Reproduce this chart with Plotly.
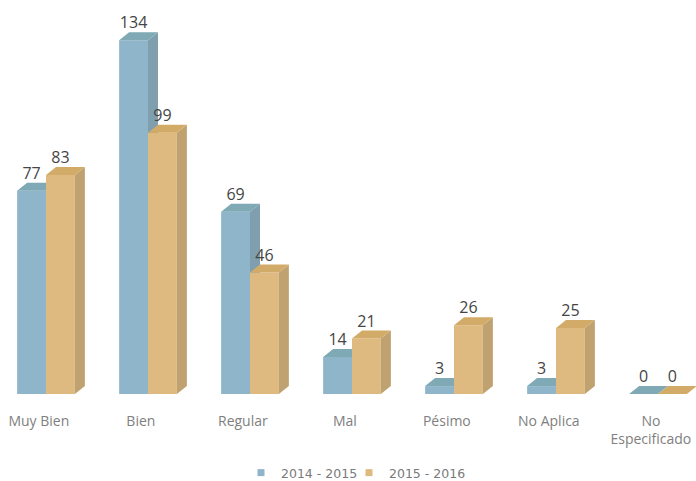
import plotly.graph_objects as go

categories = ["Muy Bien", "Bien", "Regular", "Mal", "Pésimo", "No Aplica", "No<br>Especificado"]
series_a_name = "2014 - 2015"
series_b_name = "2015 - 2016"
series_a = [77, 134, 69, 14, 3, 3, 0]
series_b = [83, 99, 46, 21, 26, 25, 0]

W, H = 696, 481
BASE_PX = 394
PX_PER_CAT = 102
PX_PER_UNIT = 2.64
DX = 10 / PX_PER_CAT
DY = 8 / PX_PER_UNIT
BAR_W = 0.283

xr = [-46 / PX_PER_CAT, (W - 46) / PX_PER_CAT]
yr = [0, BASE_PX / PX_PER_UNIT]
y_domain = [(H - BASE_PX) / H, 1]


def faces(values, x_off):
    sx, sy, tx, ty = [], [], [], []
    for i, v in enumerate(values):
        x0 = i + x_off
        x1 = x0 + BAR_W
        sx += [x1, x1 + DX, x1 + DX, x1, x1, None]
        sy += [0, DY, v + DY, v, 0, None]
        tx += [x0, x0 + DX, x1 + DX, x1, x0, None]
        ty += [v, v + DY, v + DY, v, v, None]
    return sx, sy, tx, ty


def add_group(fig, name, values, x_off, front, side, top, xa, ya, legend_id):
    fig.add_trace(go.Bar(
        x=list(range(len(values))), y=values, name=name, width=BAR_W, offset=x_off,
        marker=dict(color=front, line=dict(width=0)), xaxis=xa, yaxis=ya, showlegend=False,
    ))
    sx, sy, tx, ty = faces(values, x_off)
    for px, py, col in ((sx, sy, side), (tx, ty, top)):
        fig.add_trace(go.Scatter(
            x=px, y=py, mode="lines", fill="toself", fillcolor=col,
            line=dict(width=0, color=col), showlegend=False, hoverinfo="skip",
            xaxis=xa, yaxis=ya,
        ))
    fig.add_trace(go.Scatter(
        x=[i + x_off + BAR_W / 2 for i in range(len(values))],
        y=[v + DY for v in values],
        mode="text", text=[str(v) for v in values], textposition="top center",
        textfont=dict(size=16, color="#454545", family="Open Sans, sans-serif"),
        showlegend=False, hoverinfo="skip", xaxis=xa, yaxis=ya,
    ))
    fig.add_trace(go.Scatter(
        x=[None], y=[None], mode="markers", name=name, legend=legend_id,
        marker=dict(symbol="square", size=7, color=front),
        xaxis=xa, yaxis=ya,
    ))


fig = go.Figure()
add_group(fig, series_a_name, series_a, -BAR_W, "#8FB5CB", "#7F9FAE", "#7FA9B5", "x", "y", "legend")
add_group(fig, series_b_name, series_b, 0, "#DEBA80", "#BFA26F", "#D3AB68", "x2", "y2", "legend2")

legend_style = dict(
    orientation="h", xanchor="left",
    y=(H - 473) / H, yanchor="middle",
    font=dict(size=12.5, color="#7a7a7a", family="DejaVu Sans, sans-serif"),
    itemwidth=30, bgcolor="rgba(0,0,0,0)",
)

fig.update_layout(
    width=W, height=H,
    margin=dict(l=0, r=0, t=0, b=0, autoexpand=False),
    paper_bgcolor="white", plot_bgcolor="white",
    barmode="overlay",
    showlegend=True,
    legend=dict(x=241 / W, **legend_style),
    legend2=dict(x=349 / W, **legend_style),
    xaxis=dict(
        range=xr, showgrid=False, zeroline=False, showline=False, ticks="",
        tickmode="array", tickvals=[i - 0.07 for i in range(len(categories))],
        ticktext=categories, ticklabelstandoff=17, automargin=False,
        tickfont=dict(size=14, color="#808080", family="Open Sans, sans-serif"),
    ),
    yaxis=dict(range=yr, domain=y_domain, visible=False),
    xaxis2=dict(range=xr, overlaying="x", visible=False),
    yaxis2=dict(range=yr, domain=y_domain, overlaying="y", visible=False),
)

fig.write_html("out.html", config=dict(displayModeBar=False),
               post_script="document.body.style.margin='0';")
